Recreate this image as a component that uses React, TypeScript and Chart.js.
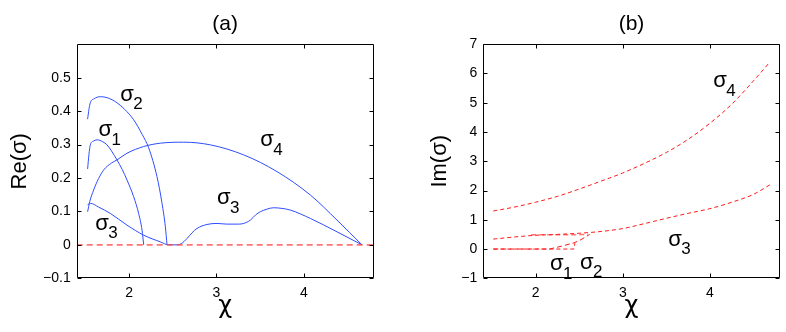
import React, { useEffect, useRef } from "react";
import { Chart, registerables } from "chart.js";

Chart.register(...registerables);
Chart.defaults.font.family = "'Liberation Sans', Arial, Helvetica, sans-serif";
Chart.defaults.color = "#000";

// ---------- Panel (a): Re(sigma) ----------
const reS1X = [1.525, 1.54, 1.556, 1.59, 1.632, 1.7, 1.747, 1.8, 1.861, 1.92, 1.976, 2.052, 2.109, 2.148, 2.167];
const reS1Y = [0.227, 0.27, 0.299, 0.31, 0.314, 0.308, 0.299, 0.28, 0.254, 0.226, 0.194, 0.144, 0.094, 0.044, 0];

const reS2X = [1.525, 1.54, 1.556, 1.6, 1.671, 1.75, 1.861, 1.95, 2.052, 2.15, 2.224, 2.319, 2.377, 2.415, 2.434];
const reS2Y = [0.376, 0.405, 0.425, 0.437, 0.443, 0.44, 0.425, 0.405, 0.374, 0.33, 0.29, 0.204, 0.124, 0.054, 0];

const reS4X = [1.525, 1.55, 1.594, 1.65, 1.709, 1.8, 1.861, 1.976, 2.167, 2.357, 2.625, 2.93, 3.312, 3.693, 4.075, 4.38, 4.666];
const reS4Y = [0.099, 0.13, 0.164, 0.198, 0.224, 0.245, 0.254, 0.274, 0.294, 0.304, 0.307, 0.299, 0.269, 0.219, 0.149, 0.074, 0];

const reS3X = [1.525, 1.56, 1.65, 1.785, 1.976, 2.167, 2.357, 2.453, 2.548, 2.6, 2.663, 2.72, 2.777, 2.892, 3.006, 3.12, 3.25, 3.312, 3.388, 3.45, 3.502, 3.58, 3.655, 3.75, 3.846, 4.075, 4.38, 4.666];
const reS3Y = [0.12, 0.124, 0.113, 0.094, 0.059, 0.029, 0.009, 0, 0, 0.004, 0.019, 0.036, 0.049, 0.061, 0.064, 0.062, 0.062, 0.064, 0.074, 0.09, 0.099, 0.107, 0.111, 0.109, 0.104, 0.079, 0.039, 0];

const reZeroX = [1.4, 4.8];
const reZeroY = [0, 0];

const reXTicks = [2, 3, 4];
const reYTicks = [-0.1, 0, 0.1, 0.2, 0.3, 0.4, 0.5];

const reLabels = [
  { x: 1.976, y: 0.449, sub: "2" },
  { x: 1.727, y: 0.344, sub: "1" },
  { x: 3.579, y: 0.314, sub: "4" },
  { x: 3.083, y: 0.139, sub: "3" },
  { x: 1.69, y: 0.064, sub: "3" },
];

// ---------- Panel (b): Im(sigma) ----------
const imS4X = [1.515, 1.75, 2.0, 2.25, 2.5, 2.75, 3.0, 3.25, 3.5, 3.75, 4.0, 4.25, 4.5, 4.69];
const imS4Y = [1.3, 1.43, 1.6, 1.8, 2.05, 2.32, 2.6, 2.93, 3.3, 3.75, 4.3, 4.95, 5.75, 6.4];

const imS3X = [1.515, 1.75, 2.0, 2.25, 2.5, 2.75, 3.0, 3.25, 3.5, 3.75, 4.0, 4.25, 4.5, 4.69];
const imS3Y = [0.34, 0.41, 0.47, 0.5, 0.54, 0.6, 0.7, 0.87, 1.05, 1.22, 1.38, 1.6, 1.87, 2.2];

const imS12X = [1.95, 2.2, 2.45, 2.6];
const imS12Y = [0.49, 0.49, 0.49, 0.5];

const imS1X = [1.515, 1.8, 2.16, 2.3, 2.44, 2.52, 2.62];
const imS1Y = [0, 0, 0, 0.1, 0.21, 0.32, 0.5];

const imS2X = [1.515, 2.0, 2.44, 2.45];
const imS2Y = [0, 0, 0, 0.2];

const imXTicks = [2, 3, 4];
const imYTicks = [-1, 0, 1, 2, 3, 4, 5, 6, 7];

const imLabels = [
  { x: 4.116, y: 5.74, sub: "4" },
  { x: 3.6, y: 0.32, sub: "3" },
  { x: 2.242, y: -0.51, sub: "1" },
  { x: 2.586, y: -0.47, sub: "2" },
];

const BLUE = "#2e4dff";
const RED = "#ff1a1a";

function pts(xs: number[], ys: number[]) {
  return xs.map((x, i) => ({ x, y: ys[i] }));
}

const framePlugin = {
  id: "frame",
  afterDatasetsDraw(chart: any, _args: any, opts: any) {
    const { ctx, chartArea, scales } = chart;
    const { left, right, top, bottom } = chartArea;
    const x = scales.x;
    const y = scales.y;
    ctx.save();
    ctx.strokeStyle = "#000";
    ctx.lineWidth = 1;
    const L = Math.round(left) + 0.5;
    const R = Math.round(right) - 0.5;
    const T = Math.round(top) + 0.5;
    const B = Math.round(bottom) - 0.5;
    ctx.beginPath();
    ctx.rect(L, T, R - L, B - T);
    ctx.stroke();
    const tl = 4;
    ctx.beginPath();
    for (const t of x.ticks) {
      const px = Math.round(x.getPixelForValue(t.value)) + 0.5;
      ctx.moveTo(px, B);
      ctx.lineTo(px, B - tl);
      ctx.moveTo(px, T);
      ctx.lineTo(px, T + tl);
    }
    for (const t of y.ticks) {
      const py = Math.round(y.getPixelForValue(t.value)) + 0.5;
      ctx.moveTo(L, py);
      ctx.lineTo(L + tl, py);
      ctx.moveTo(R, py);
      ctx.lineTo(R - tl, py);
    }
    ctx.stroke();
    // sigma labels
    ctx.fillStyle = "#000";
    ctx.textAlign = "center";
    ctx.textBaseline = "middle";
    for (const lab of opts.labels || []) {
      const px = x.getPixelForValue(lab.x);
      const py = y.getPixelForValue(lab.y);
      ctx.font = "22px 'Liberation Sans', Arial, sans-serif";
      ctx.fillText("σ", px, py);
      ctx.font = "17px 'Liberation Sans', Arial, sans-serif";
      ctx.fillText(lab.sub, px + 11, py + 10);
    }
    ctx.restore();
  },
};

function fmtRe(v: number) {
  if (Math.abs(v) < 1e-9) return "0";
  return (v < 0 ? "\u2212" : "") + Math.abs(v).toFixed(1);
}
function fmtIm(v: number) {
  if (Math.abs(v) < 1e-9) return "0";
  return (v < 0 ? "\u2212" : "") + String(Math.abs(v));
}

function makeConfig(p: {
  title: string;
  ytitle: string;
  ymin: number;
  ymax: number;
  xTicks: number[];
  yTicks: number[];
  fmt: (v: number) => string;
  yWidth: number;
  yTitlePad: number;
  padRight: number;
  datasets: any[];
  labels: any[];
}): any {
  return {
    type: "scatter",
    data: { datasets: p.datasets },
    plugins: [framePlugin],
    options: {
      animation: false,
      responsive: false,
      events: [],
      layout: { padding: { left: 0, right: p.padRight, top: 0, bottom: 0 } },
      plugins: {
        legend: { display: false },
        tooltip: { enabled: false },
        title: {
          display: true,
          text: p.title,
          fullSize: false,
          color: "#000",
          font: { size: 21, weight: "normal" },
          padding: { top: 12, bottom: 7 },
        },
        frame: { labels: p.labels },
      },
      scales: {
        x: {
          type: "linear",
          position: "bottom",
          min: 1.4,
          max: 4.8,
          afterBuildTicks: (s: any) => {
            s.ticks = p.xTicks.map((v) => ({ value: v }));
          },
          afterFit: (s: any) => {
            s.height = 53.7;
          },
          grid: { display: false, drawTicks: false },
          border: { display: false },
          ticks: {
            color: "#000",
            font: { size: 14 },
            padding: 6,
            maxRotation: 0,
            autoSkip: false,
            callback: (v: any) => String(v),
          },
          title: {
            display: true,
            text: "χ",
            color: "#000",
            font: { size: 24, family: "'DejaVu Sans', sans-serif" },
            padding: { top: 0, bottom: 11 },
          },
        },
        y: {
          type: "linear",
          position: "left",
          min: p.ymin,
          max: p.ymax,
          afterBuildTicks: (s: any) => {
            s.ticks = p.yTicks.map((v) => ({ value: v }));
          },
          afterFit: (s: any) => {
            s.width = p.yWidth;
          },
          grid: { display: false, drawTicks: false },
          border: { display: false },
          ticks: {
            color: "#000",
            font: { size: 14 },
            padding: 6,
            autoSkip: false,
            callback: (v: any) => p.fmt(Number(v)),
          },
          title: {
            display: true,
            text: p.ytitle,
            color: "#000",
            font: { size: 22 },
            padding: { top: p.yTitlePad, bottom: 0 },
          },
        },
      },
    },
  };
}

function line(xs: number[], ys: number[], color: string, dash: number[], width = 1, smooth = true) {
  return {
    data: pts(xs, ys),
    showLine: true,
    borderColor: color,
    backgroundColor: color,
    borderWidth: width,
    borderDash: dash,
    pointRadius: 0,
    fill: false,
    tension: smooth ? 0.4 : 0,
    cubicInterpolationMode: smooth ? "monotone" : "default",
  };
}

export default function App() {
  const leftRef = useRef<HTMLCanvasElement>(null);
  const rightRef = useRef<HTMLCanvasElement>(null);

  useEffect(() => {
    const left = new Chart(
      leftRef.current as HTMLCanvasElement,
      makeConfig({
        title: "(a)",
        ytitle: "Re(σ)",
        ymin: -0.1,
        ymax: 0.6,
        xTicks: reXTicks,
        yTicks: reYTicks,
        fmt: fmtRe,
        yWidth: 76.7,
        yTitlePad: 7,
        padRight: 393 - 373.7,
        labels: reLabels,
        datasets: [
          line(reZeroX, reZeroY, "rgba(255,70,70,0.75)", [6, 4], 1.6, false),
          line(reS1X, reS1Y, BLUE, []),
          line(reS2X, reS2Y, BLUE, []),
          line(reS4X, reS4Y, BLUE, []),
          line(reS3X, reS3Y, BLUE, []),
        ],
      })
    );
    const right = new Chart(
      rightRef.current as HTMLCanvasElement,
      makeConfig({
        title: "(b)",
        ytitle: "Im(σ)",
        ymin: -1,
        ymax: 7,
        xTicks: imXTicks,
        yTicks: imYTicks,
        fmt: fmtIm,
        yWidth: 90.3,
        yTitlePad: 34,
        padRight: 393 - 386.7,
        labels: imLabels,
        datasets: [
          line(imS4X, imS4Y, RED, [4, 3]),
          line(imS3X, imS3Y, RED, [4, 3]),
          line(imS12X, imS12Y, "rgba(255,60,60,0.7)", [5, 3], 1.4, false),
          line(imS1X, imS1Y, RED, [5, 3], 1, false),
          line(imS2X, imS2Y, RED, [4, 3], 1, false),
        ],
      })
    );
    return () => {
      left.destroy();
      right.destroy();
    };
  }, []);

  return (
    <div style={{ position: "fixed", left: 0, top: 0, width: 786, height: 332, background: "#fff" }}>
      <canvas ref={leftRef} width={393} height={332} style={{ position: "absolute", left: 0, top: 0, width: 393, height: 332 }} />
      <canvas ref={rightRef} width={393} height={332} style={{ position: "absolute", left: 393, top: 0, width: 393, height: 332 }} />
    </div>
  );
}
